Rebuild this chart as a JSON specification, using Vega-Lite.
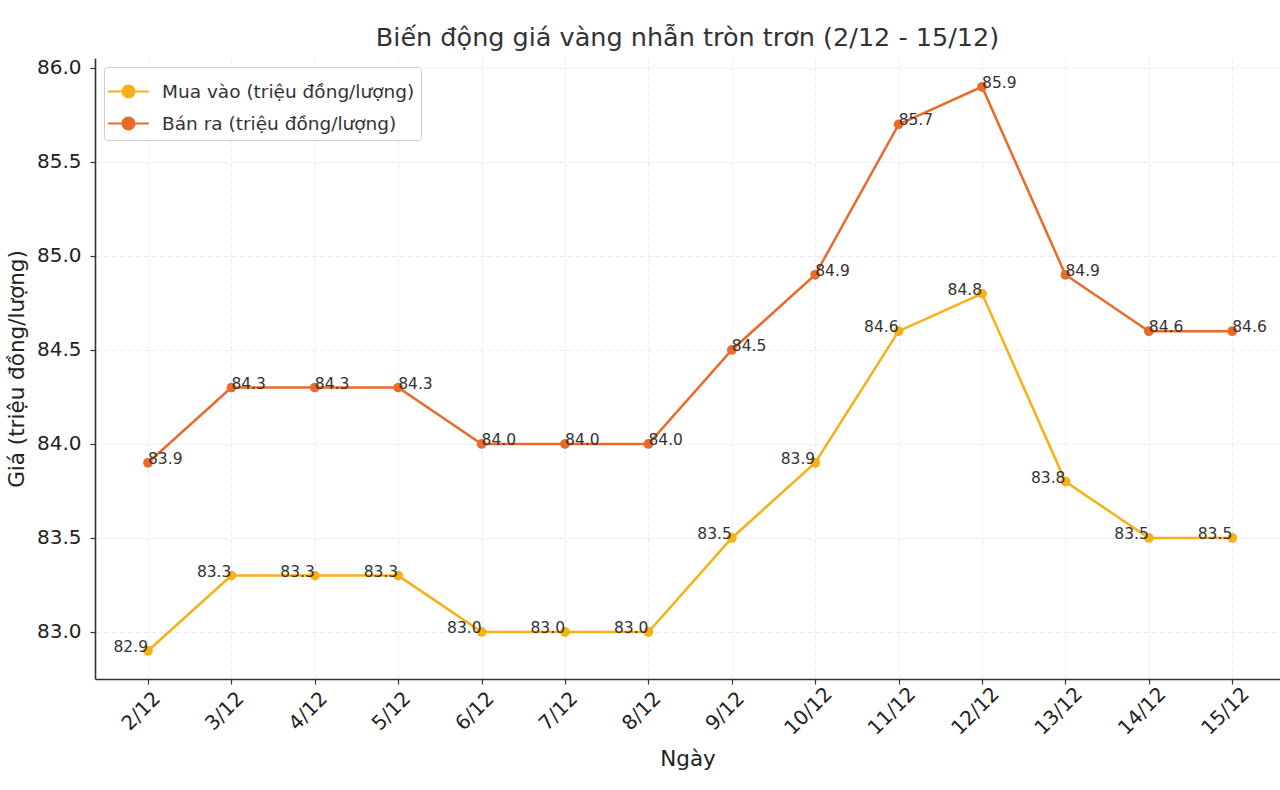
{
  "$schema": "https://vega.github.io/schema/vega-lite/v6.json",
  "width": 1185,
  "height": 621,
  "autosize": {"type": "none"},
  "padding": {"left": 95, "top": 58, "right": 0, "bottom": 111},
  "background": "white",
  "title": {"text": "Biến động giá vàng nhẫn tròn trơn (2/12 - 15/12)", "font": "DejaVu Sans", "fontSize": 25.5, "fontWeight": "normal", "color": "#333333", "offset": 6, "anchor": "middle"},
  "config": {
    "view": {"stroke": null},
    "font": "DejaVu Sans",
    "axis": {"gridDash": [5, 3], "gridColor": "#e6e6e6", "gridWidth": 0.8, "domainColor": "#333333", "domainWidth": 1.6, "tickColor": "#333333", "tickSize": 5, "tickWidth": 1.2, "labelColor": "#222222", "titleColor": "#222222", "titleFontWeight": "normal", "labelFont": "DejaVu Sans", "titleFont": "DejaVu Sans"}
  },
  "data": {"values": [
    {"day": "2/12", "series": "Mua vào (triệu đồng/lượng)", "price": 82.9},
    {"day": "3/12", "series": "Mua vào (triệu đồng/lượng)", "price": 83.3},
    {"day": "4/12", "series": "Mua vào (triệu đồng/lượng)", "price": 83.3},
    {"day": "5/12", "series": "Mua vào (triệu đồng/lượng)", "price": 83.3},
    {"day": "6/12", "series": "Mua vào (triệu đồng/lượng)", "price": 83.0},
    {"day": "7/12", "series": "Mua vào (triệu đồng/lượng)", "price": 83.0},
    {"day": "8/12", "series": "Mua vào (triệu đồng/lượng)", "price": 83.0},
    {"day": "9/12", "series": "Mua vào (triệu đồng/lượng)", "price": 83.5},
    {"day": "10/12", "series": "Mua vào (triệu đồng/lượng)", "price": 83.9},
    {"day": "11/12", "series": "Mua vào (triệu đồng/lượng)", "price": 84.6},
    {"day": "12/12", "series": "Mua vào (triệu đồng/lượng)", "price": 84.8},
    {"day": "13/12", "series": "Mua vào (triệu đồng/lượng)", "price": 83.8},
    {"day": "14/12", "series": "Mua vào (triệu đồng/lượng)", "price": 83.5},
    {"day": "15/12", "series": "Mua vào (triệu đồng/lượng)", "price": 83.5},
    {"day": "2/12", "series": "Bán ra (triệu đồng/lượng)", "price": 83.9},
    {"day": "3/12", "series": "Bán ra (triệu đồng/lượng)", "price": 84.3},
    {"day": "4/12", "series": "Bán ra (triệu đồng/lượng)", "price": 84.3},
    {"day": "5/12", "series": "Bán ra (triệu đồng/lượng)", "price": 84.3},
    {"day": "6/12", "series": "Bán ra (triệu đồng/lượng)", "price": 84.0},
    {"day": "7/12", "series": "Bán ra (triệu đồng/lượng)", "price": 84.0},
    {"day": "8/12", "series": "Bán ra (triệu đồng/lượng)", "price": 84.0},
    {"day": "9/12", "series": "Bán ra (triệu đồng/lượng)", "price": 84.5},
    {"day": "10/12", "series": "Bán ra (triệu đồng/lượng)", "price": 84.9},
    {"day": "11/12", "series": "Bán ra (triệu đồng/lượng)", "price": 85.7},
    {"day": "12/12", "series": "Bán ra (triệu đồng/lượng)", "price": 85.9},
    {"day": "13/12", "series": "Bán ra (triệu đồng/lượng)", "price": 84.9},
    {"day": "14/12", "series": "Bán ra (triệu đồng/lượng)", "price": 84.6},
    {"day": "15/12", "series": "Bán ra (triệu đồng/lượng)", "price": 84.6}
  ]},
  "encoding": {
    "x": {"field": "day", "type": "ordinal", "sort": null,
      "scale": {"type": "point", "padding": 0.604, "align": 0.526},
      "axis": {"title": "Ngày", "titleFontSize": 21.5, "titlePadding": 10, "labelFontSize": 20, "labelAngle": -45, "labelAlign": "center", "labelBaseline": "middle", "labelPadding": 27, "labelOffset": -7, "grid": true}},
    "y": {"field": "price", "type": "quantitative",
      "scale": {"domain": [82.75, 86.053], "nice": false, "zero": false},
      "axis": {"title": "Giá (triệu đồng/lượng)", "titleFontSize": 21.5, "titlePadding": 8, "labelFontSize": 20, "labelPadding": 9, "format": ".1f", "values": [83.0, 83.5, 84.0, 84.5, 85.0, 85.5, 86.0], "grid": true}}
  },
  "layer": [
    {
      "mark": {"type": "line", "strokeWidth": 2.5, "point": {"filled": true, "size": 95}},
      "encoding": {
        "color": {"field": "series", "type": "nominal",
          "scale": {"domain": ["Mua vào (triệu đồng/lượng)", "Bán ra (triệu đồng/lượng)"], "range": ["#F7B015", "#EA6A2A"]},
          "legend": {"title": null, "orient": "top-left", "offset": 9, "labelFontSize": 18.5, "labelLimit": 0, "labelColor": "#333333", "symbolType": "M-1.2,0 L1.2,0 M-0.35,0 A0.35,0.35 0 1 1 0.35,0 A0.35,0.35 0 1 1 -0.35,0", "symbolSize": 1150, "symbolStrokeWidth": 2.2, "strokeColor": "#cccccc", "fillColor": "white", "padding": 6, "cornerRadius": 3, "rowPadding": 3, "labelOffset": 15}}
      }
    },
    {
      "transform": [{"filter": "datum.series === 'Mua vào (triệu đồng/lượng)'"}],
      "mark": {"type": "text", "align": "right", "baseline": "bottom", "fontSize": 15.5, "color": "#333333", "dy": 4},
      "encoding": {"text": {"field": "price", "type": "quantitative", "format": ".1f"}}
    },
    {
      "transform": [{"filter": "datum.series === 'Bán ra (triệu đồng/lượng)'"}],
      "mark": {"type": "text", "align": "left", "baseline": "bottom", "fontSize": 15.5, "color": "#333333", "dy": 4},
      "encoding": {"text": {"field": "price", "type": "quantitative", "format": ".1f"}}
    }
  ]
}
